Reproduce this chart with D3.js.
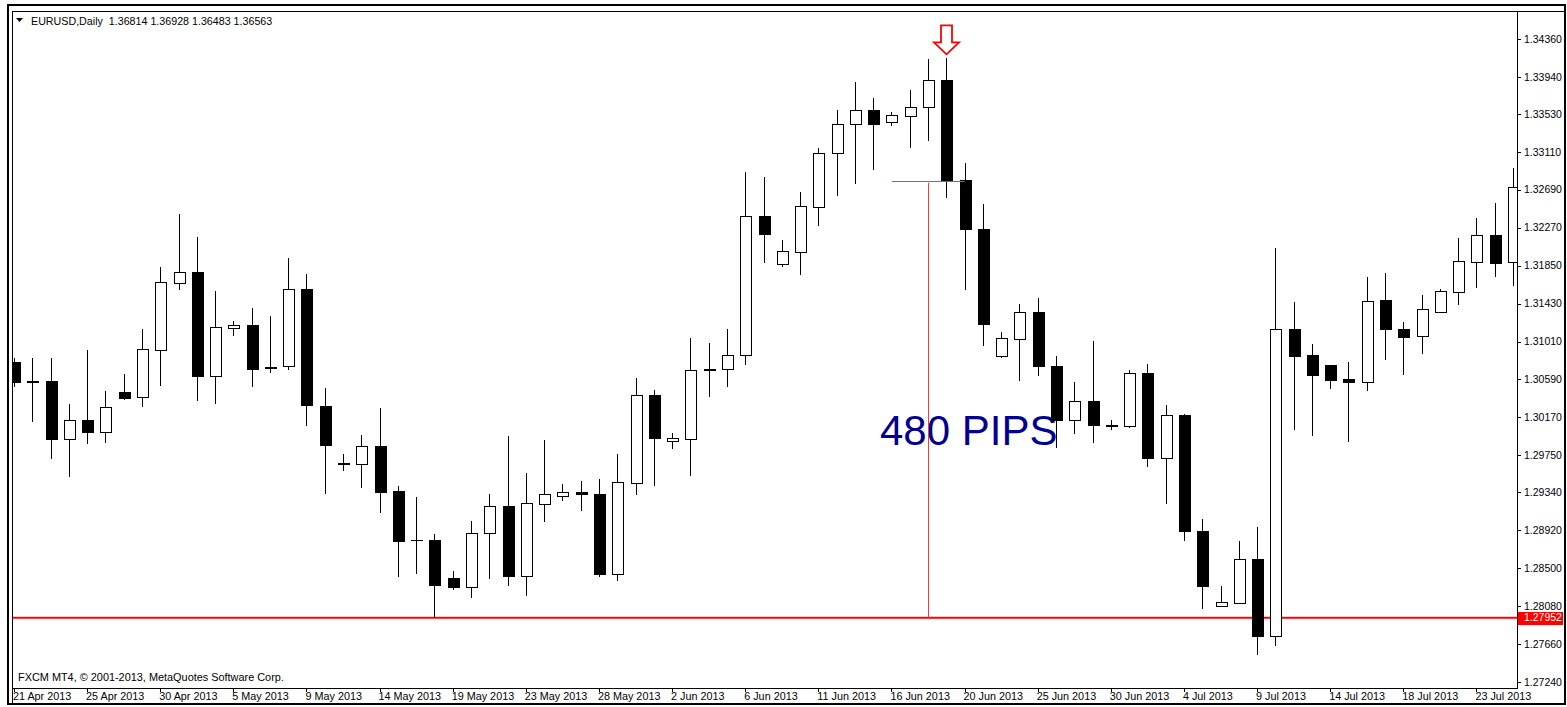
<!DOCTYPE html>
<html>
<head>
<meta charset="utf-8">
<script src="https://cdn.jsdelivr.net/npm/d3@7"></script>
<style>
  body { margin: 0; background: #fff; }
  svg { display: block; }
  text { font-family: "Liberation Sans", Arial, sans-serif; }
</style>
</head>
<body>
<svg id="chart" width="1567" height="707"></svg>
<script>
// EURUSD daily bars, 21 Apr 2013 - 25 Jul 2013 (FXCM, with Sunday bars)
var dates = [
  "2013-04-21","2013-04-22","2013-04-23","2013-04-24","2013-04-25","2013-04-26","2013-04-28","2013-04-29","2013-04-30",
  "2013-05-01","2013-05-02","2013-05-03","2013-05-05","2013-05-06","2013-05-07","2013-05-08","2013-05-09","2013-05-10",
  "2013-05-12","2013-05-13","2013-05-14","2013-05-15","2013-05-16","2013-05-17","2013-05-19","2013-05-20","2013-05-21",
  "2013-05-22","2013-05-23","2013-05-24","2013-05-26","2013-05-27","2013-05-28","2013-05-29","2013-05-30","2013-05-31",
  "2013-06-02","2013-06-03","2013-06-04","2013-06-05","2013-06-06","2013-06-07","2013-06-09","2013-06-10","2013-06-11",
  "2013-06-12","2013-06-13","2013-06-14","2013-06-16","2013-06-17","2013-06-18","2013-06-19","2013-06-20","2013-06-21",
  "2013-06-23","2013-06-24","2013-06-25","2013-06-26","2013-06-27","2013-06-28","2013-06-30","2013-07-01","2013-07-02",
  "2013-07-03","2013-07-04","2013-07-05","2013-07-07","2013-07-08","2013-07-09","2013-07-10","2013-07-11","2013-07-12",
  "2013-07-14","2013-07-15","2013-07-16","2013-07-17","2013-07-18","2013-07-19","2013-07-21","2013-07-22","2013-07-23",
  "2013-07-24","2013-07-25"
];
var opens = [
  1.30776,1.30562,1.30573,1.29920,1.30141,1.30008,1.30443,1.30393,1.30913,
  1.31658,1.31777,1.30628,1.31152,1.31193,1.30720,1.30731,1.31588,1.30296,
  1.29659,1.29643,1.29846,1.29344,1.28812,1.28809,1.28381,1.28284,1.28882,
  1.29178,1.28403,1.29211,1.29289,1.29341,1.29318,1.28425,1.29440,1.30407,
  1.29898,1.29923,1.30695,1.30695,1.30850,1.32400,1.31861,1.31998,1.32496,
  1.33090,1.33408,1.33563,1.33433,1.33507,1.33599,1.33906,1.32791,1.32256,
  1.30846,1.31038,1.31332,1.30739,1.30141,1.30344,1.30075,1.30064,1.30658,
  1.29717,1.30193,1.28912,1.28071,1.28111,1.28594,1.27749,1.31141,1.30853,
  1.30750,1.30587,1.30559,1.31459,1.31141,1.31064,1.31329,1.31555,1.31887,
  1.32182,1.31887
];
var highs = [
  1.30828,1.30828,1.30828,1.30318,1.30916,1.30462,1.30647,1.31145,1.31839,
  1.32422,1.32168,1.31573,1.31241,1.31385,1.31293,1.31932,1.31758,1.30499,
  1.29761,1.29975,1.30271,1.29410,1.29285,1.28879,1.28469,1.29026,1.29318,
  1.29964,1.29551,1.29916,1.29433,1.29469,1.29488,1.29765,1.30603,1.30473,
  1.29994,1.31049,1.30994,1.31145,1.32891,1.32829,1.32131,1.32662,1.33150,
  1.33577,1.33881,1.33703,1.33548,1.33792,1.34139,1.34146,1.32984,1.32530,
  1.31119,1.31426,1.31489,1.30850,1.30562,1.31019,1.30138,1.30695,1.30765,
  1.30307,1.30208,1.29042,1.28306,1.28801,1.28956,1.32042,1.31448,1.30979,
  1.30750,1.30780,1.31728,1.31766,1.31230,1.31525,1.31588,1.32160,1.32375,
  1.32541,1.32932
];
var lows = [
  1.30510,1.30122,1.29706,1.29513,1.29872,1.29883,1.30363,1.30288,1.30518,
  1.31581,1.30348,1.30315,1.31075,1.30510,1.30658,1.30695,1.30075,1.29322,
  1.29580,1.29385,1.29111,1.28406,1.28436,1.27952,1.28259,1.28167,1.28381,
  1.28306,1.28196,1.29015,1.29244,1.29134,1.28399,1.28362,1.29311,1.29410,
  1.29817,1.29524,1.30399,1.30503,1.30750,1.31883,1.31832,1.31747,1.32293,
  1.32618,1.32758,1.32909,1.33400,1.33150,1.33227,1.32596,1.31581,1.30961,
  1.30833,1.30570,1.30628,1.29828,1.29983,1.29883,1.30030,1.30049,1.29617,
  1.29208,1.28805,1.28045,1.28066,1.28104,1.27539,1.27639,1.30030,1.29964,
  1.30488,1.29901,1.30466,1.30806,1.30639,1.30869,1.31329,1.31415,1.31606,
  1.31728,1.31628
];
var closes = [
  1.30554,1.30565,1.29920,1.30141,1.30008,1.30277,1.30377,1.30927,1.31662,
  1.31777,1.30628,1.31168,1.31190,1.30695,1.30706,1.31588,1.30300,1.29857,
  1.29654,1.29846,1.29336,1.28801,1.28806,1.28311,1.28281,1.28887,1.29178,
  1.28403,1.29214,1.29318,1.29341,1.29314,1.28425,1.29444,1.30407,1.29931,
  1.29931,1.30684,1.30684,1.30850,1.32400,1.32190,1.32005,1.32500,1.33090,
  1.33411,1.33563,1.33408,1.33511,1.33599,1.33906,1.32791,1.32253,1.31201,
  1.31041,1.31332,1.30731,1.30138,1.30344,1.30075,1.30080,1.30658,1.29717,
  1.30193,1.28904,1.28303,1.28118,1.28594,1.27749,1.31141,1.30842,1.30639,
  1.30581,1.30559,1.31456,1.31138,1.31060,1.31370,1.31559,1.31891,1.32182,
  1.31869,1.32713
];
var priceTicks = [1.34360,1.33940,1.33530,1.33110,1.32690,1.32270,1.31850,1.31430,1.31010,
  1.30590,1.30170,1.29750,1.29340,1.28920,1.28500,1.28080,1.27660,1.27240];
var supportLevel = 1.27952;
var topBar = 51;          // 19 Jun 2013, marked with the arrow
var pipsLabel = "480 PIPS";
var headerText = "EURUSD,Daily  1.36814 1.36928 1.36483 1.36563";
var footerText = "FXCM MT4, \u00A9 2001-2013, MetaQuotes Software Corp.";

var bars = dates.map(function(d, i) {
    return { i: i, date: d3.timeParse("%Y-%m-%d")(d), o: opens[i], h: highs[i], l: lows[i], c: closes[i] };
});

var svg = d3.select("#chart");
var plotL = 13, plotR = 1517, plotT = 12, plotB = 688;

var x = d3.scaleLinear().domain([0, bars.length - 1]).range([14, 1513]);
var y = d3.scaleLinear().domain([1.2724, 1.3436]).range([682, 39]);
var fmtDate = d3.timeFormat("%-d %b %Y");

// window frame
svg.append("rect").attr("x", 8).attr("y", 5).attr("width", 1557).attr("height", 699)
    .attr("fill", "#fff").attr("stroke", "#000").attr("stroke-width", 2);
svg.append("rect").attr("x", 12.5).attr("y", 11.5).attr("width", 1552).attr("height", 692)
    .attr("fill", "none").attr("stroke", "#000").attr("stroke-width", 1);

svg.append("defs").append("clipPath").attr("id", "plot")
    .append("rect").attr("x", plotL).attr("y", plotT).attr("width", plotR - plotL).attr("height", plotB - plotT);

var plot = svg.append("g").attr("clip-path", "url(#plot)");

// support line
plot.append("line")
    .attr("x1", plotL).attr("x2", plotR)
    .attr("y1", y(supportLevel)).attr("y2", y(supportLevel))
    .attr("stroke", "#ff0000").attr("stroke-width", 2);

// 480 pips label sits under the candles
var topClose = closes[topBar];
plot.append("text")
    .attr("x", 880).attr("y", 445)
    .attr("font-size", 42)
    .attr("fill", "#000090")
    .text(pipsLabel);

// candles
var bw = 11;
var candle = plot.selectAll("g.candle").data(bars).enter().append("g").attr("class", "candle")
    .attr("shape-rendering", "crispEdges");
candle.append("line")
    .attr("x1", function(d) { return Math.round(x(d.i)) + 0.5; })
    .attr("x2", function(d) { return Math.round(x(d.i)) + 0.5; })
    .attr("y1", function(d) { return y(d.h); })
    .attr("y2", function(d) { return y(d.l); })
    .attr("stroke", "#000");
candle.append("rect")
    .attr("x", function(d) { return Math.round(x(d.i)) - bw / 2 + 0.5; })
    .attr("y", function(d) { return y(Math.max(d.o, d.c)); })
    .attr("width", bw)
    .attr("height", function(d) { return Math.max(0.5, Math.abs(y(d.o) - y(d.c))); })
    .attr("fill", function(d) { return d.c >= d.o ? "#fff" : "#000"; })
    .attr("stroke", "#000");

// measuring lines
plot.append("line")
    .attr("x1", x(topBar - 3) + 0.5).attr("x2", x(topBar + 1))
    .attr("y1", Math.round(y(topClose)) + 0.5).attr("y2", Math.round(y(topClose)) + 0.5)
    .attr("stroke", "#f03c3c").attr("stroke-width", 1);
plot.append("line")
    .attr("x1", Math.round(x(topBar - 1)) + 0.5).attr("x2", Math.round(x(topBar - 1)) + 0.5)
    .attr("y1", y(topClose) + 2).attr("y2", y(supportLevel))
    .attr("stroke", "#f03c3c").attr("stroke-width", 1);

// arrow over the top bar
var ax = Math.round(x(topBar)) + 0.5, tip = y(highs[topBar]) - 4;
svg.append("path")
    .attr("d", "M" + (ax - 5.5) + "," + (tip - 29) + "L" + (ax + 5.5) + "," + (tip - 29) +
        "L" + (ax + 5.5) + "," + (tip - 12) + "L" + (ax + 12.5) + "," + (tip - 12) +
        "L" + ax + "," + tip + "L" + (ax - 12.5) + "," + (tip - 12) +
        "L" + (ax - 5.5) + "," + (tip - 12) + "Z")
    .attr("fill", "#fff").attr("stroke", "#ff0000").attr("stroke-width", 1.8);

// axes lines
svg.append("line").attr("x1", plotR + 0.5).attr("x2", plotR + 0.5).attr("y1", plotT).attr("y2", plotB + 1)
    .attr("stroke", "#000");
svg.append("line").attr("x1", plotL).attr("x2", plotR + 1).attr("y1", plotB + 0.5).attr("y2", plotB + 0.5)
    .attr("stroke", "#000");

// price axis
var pa = svg.append("g").selectAll("g").data(priceTicks).enter().append("g");
pa.append("line")
    .attr("x1", plotR).attr("x2", plotR + 4)
    .attr("y1", function(d) { return Math.round(y(d)) + 0.5; })
    .attr("y2", function(d) { return Math.round(y(d)) + 0.5; })
    .attr("stroke", "#000");
pa.append("text")
    .attr("x", plotR + 7).attr("y", function(d) { return y(d); })
    .attr("dy", "0.35em").attr("font-size", 10.5).attr("fill", "#000")
    .text(function(d) { return d.toFixed(5); });

svg.append("rect")
    .attr("x", plotR + 1).attr("y", Math.round(y(supportLevel)) - 6)
    .attr("width", 45).attr("height", 13).attr("fill", "#ff0000");
svg.append("text")
    .attr("x", plotR + 7).attr("y", y(supportLevel))
    .attr("dy", "0.35em").attr("font-size", 10.5).attr("fill", "#fff")
    .text(supportLevel.toFixed(5));

// date axis, a label every 4 bars
var dateTicks = bars.filter(function(d) { return d.i % 4 === 0; });
var da = svg.append("g").selectAll("g").data(dateTicks).enter().append("g");
da.append("line")
    .attr("x1", function(d) { return Math.round(x(d.i)) + 0.5; })
    .attr("x2", function(d) { return Math.round(x(d.i)) + 0.5; })
    .attr("y1", plotB).attr("y2", plotB + 4)
    .attr("stroke", "#000");
da.append("text")
    .attr("x", function(d) { return x(d.i) - 1; })
    .attr("y", 700)
    .attr("font-size", 10.8).attr("fill", "#000")
    .text(function(d) { return fmtDate(d.date); });

// header and footer
svg.append("path").attr("d", "M16,18L23,18L19.5,22Z").attr("fill", "#000");
svg.append("text").attr("x", 31).attr("y", 25).attr("font-size", 10.7).attr("fill", "#000")
    .style("white-space", "pre").text(headerText);
svg.append("text").attr("x", 18).attr("y", 681).attr("font-size", 10.9).attr("fill", "#000")
    .text(footerText);
</script>
</body>
</html>
